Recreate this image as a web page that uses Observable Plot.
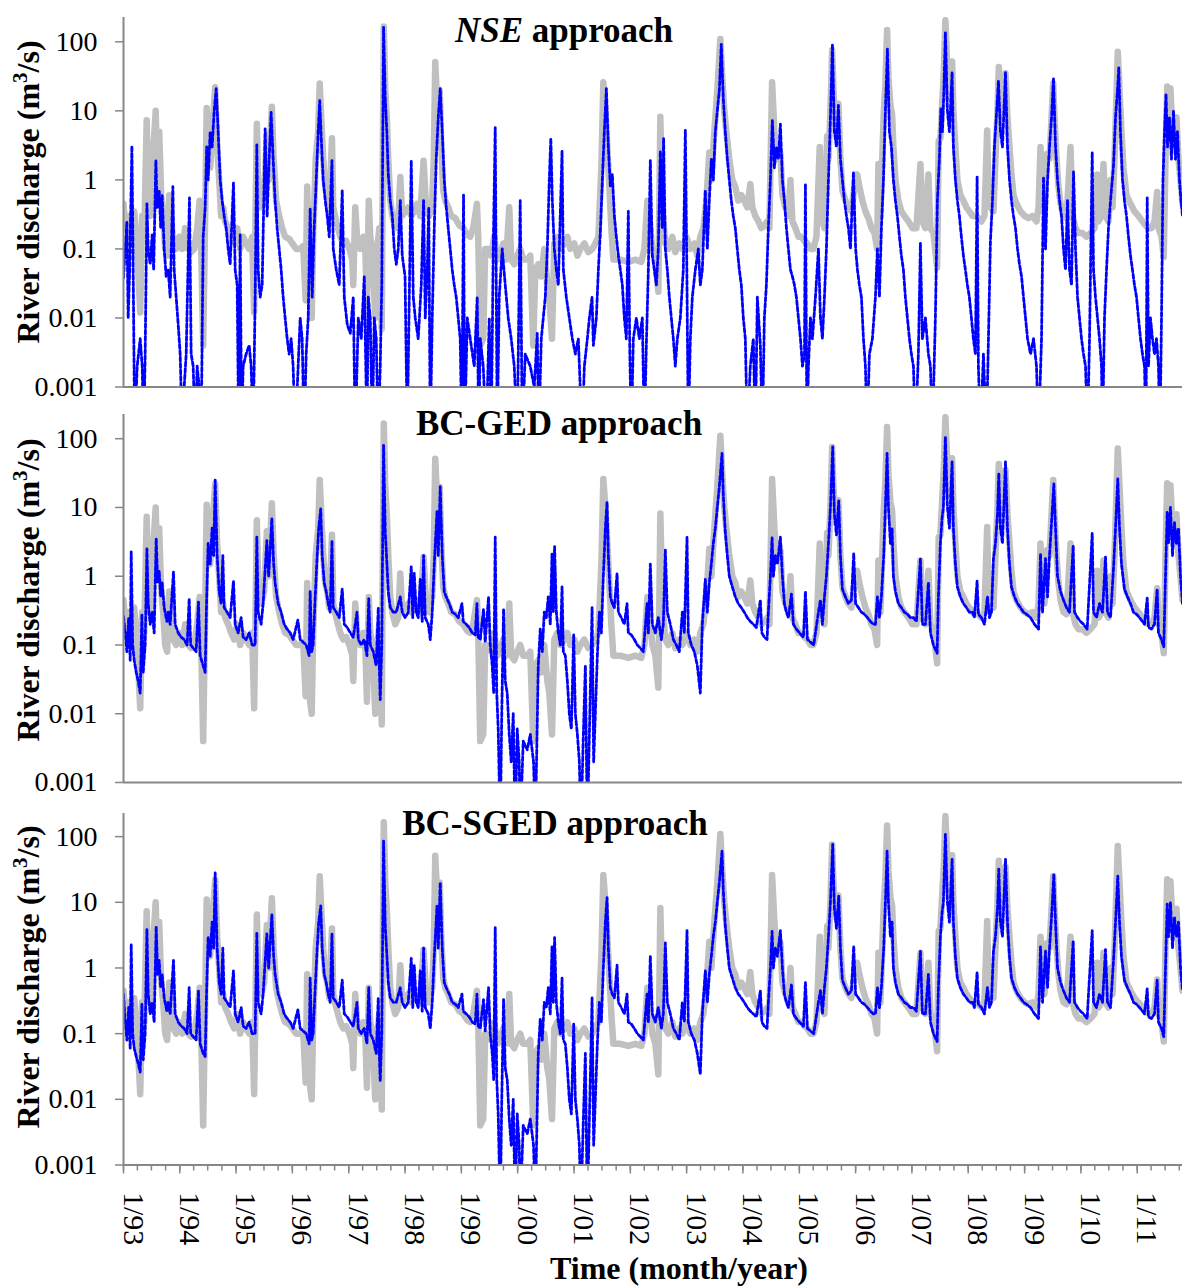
<!DOCTYPE html>
<html><head><meta charset="utf-8">
<script src="https://cdn.jsdelivr.net/npm/d3@7"></script>
<script src="https://cdn.jsdelivr.net/npm/@observablehq/plot@0.6"></script>
<style>
body{margin:0;background:#fff}
#wrap{position:relative;width:1182px;height:1286px;overflow:hidden;background:#fff;font-family:'Liberation Serif','Times New Roman',serif}
#wrap svg, #wrap svg text{font-family:'Liberation Serif','Times New Roman',serif !important}
</style>
</head><body><div id="wrap"></div>
<script>
// Observed river discharge (m3/s), time as decimal year
const observed = [
[1993.000,0.45],[1993.030,0.2],[1993.083,0.3],[1993.137,0.12],[1993.190,0.35],[1993.243,0.1],[1993.297,0.012],[1993.332,0.3],[1993.368,0.15],[1993.412,7.3],[1993.439,0.6],[1993.474,0.3],[1993.510,1.5],[1993.572,10],[1993.599,1.2],[1993.634,5],[1993.670,0.6],[1993.705,0.3],[1993.741,0.1],[1993.776,0.08],[1993.812,0.6],[1993.847,0.3],[1993.883,0.12],[1993.936,0.1],[1993.989,0.15],
[1994.043,0.1],[1994.096,0.2],[1994.149,0.1],[1994.202,0.09],[1994.256,0.1],[1994.309,0.2],[1994.353,0.5],[1994.380,0.1],[1994.416,0.004],[1994.451,0.3],[1994.478,11],[1994.504,2],[1994.540,1.5],[1994.575,5],[1994.629,22],[1994.664,3],[1994.700,1],[1994.735,0.3],[1994.771,0.4],[1994.806,0.25],[1994.860,0.2],[1994.913,0.15],[1994.966,0.12],
[1995.020,0.2],[1995.073,0.1],[1995.126,0.15],[1995.179,0.12],[1995.233,0.1],[1995.286,0.15],[1995.321,0.012],[1995.348,0.4],[1995.369,6.5],[1995.393,0.8],[1995.446,0.4],[1995.499,0.6],[1995.547,4.5],[1995.579,1],[1995.636,11.5],[1995.668,2],[1995.712,0.5],[1995.766,0.3],[1995.819,0.2],[1995.872,0.15],[1995.943,0.14],
[1996.000,0.12],[1996.067,0.1],[1996.139,0.1],[1996.192,0.11],[1996.236,0.018],[1996.263,0.8],[1996.290,0.1],[1996.316,0.015],[1996.343,0.01],[1996.369,0.15],[1996.414,2],[1996.458,5],[1996.485,25],[1996.512,8],[1996.547,2],[1996.583,0.8],[1996.618,0.6],[1996.654,0.35],[1996.702,4],[1996.725,0.4],[1996.778,0.25],[1996.849,0.15],[1996.902,0.12],[1996.956,0.13],
[1997.009,0.1],[1997.062,0.07],[1997.080,0.03],[1997.115,0.4],[1997.151,0.13],[1997.204,0.1],[1997.258,0.15],[1997.293,0.1],[1997.323,0.015],[1997.355,0.5],[1997.382,0.15],[1997.417,0.1],[1997.471,0.01],[1997.506,0.1],[1997.542,0.2],[1997.586,0.007],[1997.604,2],[1997.622,166],[1997.648,20],[1997.678,7.3],[1997.702,2],[1997.737,0.5],[1997.773,0.3],[1997.826,0.2],[1997.879,0.25],[1997.915,1.1],[1997.950,0.3],
[1998.004,0.35],[1998.057,0.4],[1998.110,0.3],[1998.163,0.35],[1998.217,0.45],[1998.270,0.3],[1998.329,1.9],[1998.377,0.35],[1998.430,0.3],[1998.483,0.5],[1998.510,2],[1998.536,51],[1998.572,12],[1998.616,20],[1998.643,3],[1998.678,0.7],[1998.714,0.5],[1998.767,0.4],[1998.821,0.3],[1998.892,0.28],[1998.963,0.22],
[1999.034,0.2],[1999.105,0.16],[1999.158,0.15],[1999.211,0.2],[1999.277,0.45],[1999.300,0.15],[1999.336,0.004],[1999.389,0.005],[1999.424,0.1],[1999.478,0.1],[1999.531,0.08],[1999.584,0.15],[1999.638,0.07],[1999.691,0.08],[1999.744,0.12],[1999.797,0.07],[1999.851,0.4],[1999.886,0.07],[1999.940,0.06],[1999.993,0.08],
[2000.046,0.1],[2000.099,0.07],[2000.171,0.07],[2000.224,0.08],[2000.277,0.004],[2000.313,0.05],[2000.366,0.06],[2000.419,0.04],[2000.472,0.1],[2000.526,0.03],[2000.561,0.02],[2000.609,0.005],[2000.650,0.12],[2000.703,0.15],[2000.757,0.1],[2000.828,0.12],[2000.881,0.15],[2000.934,0.1],
[2001.005,0.12],[2001.059,0.08],[2001.112,0.1],[2001.183,0.12],[2001.254,0.09],[2001.325,0.1],[2001.378,0.12],[2001.432,0.15],[2001.485,1.5],[2001.520,26],[2001.556,10],[2001.591,3],[2001.627,0.8],[2001.662,0.2],[2001.698,0.07],[2001.822,0.07],[2001.964,0.065],
[2002.089,0.07],[2002.195,0.065],[2002.249,0.1],[2002.302,0.5],[2002.355,0.2],[2002.391,0.1],[2002.444,0.07],[2002.497,0.024],[2002.533,8.2],[2002.568,0.4],[2002.622,0.12],[2002.675,0.1],[2002.746,0.15],[2002.799,0.09],[2002.870,0.12],[2002.924,0.1],[2002.995,0.15],
[2003.066,0.1],[2003.137,0.12],[2003.190,0.08],[2003.243,0.15],[2003.297,0.2],[2003.350,0.5],[2003.403,2.5],[2003.439,1],[2003.492,5],[2003.545,20],[2003.599,110],[2003.634,30],[2003.670,10],[2003.705,5],[2003.758,2],[2003.812,1],[2003.865,0.8],[2003.918,0.5],[2003.972,0.6],
[2004.025,0.5],[2004.078,0.4],[2004.131,0.87],[2004.167,0.4],[2004.220,0.3],[2004.274,0.25],[2004.327,0.2],[2004.380,0.22],[2004.433,0.25],[2004.469,0.2],[2004.517,26],[2004.558,5],[2004.593,2],[2004.629,3],[2004.664,2.4],[2004.700,0.6],[2004.753,0.4],[2004.806,0.3],[2004.842,1],[2004.877,0.25],[2004.931,0.2],[2004.984,0.15],
[2005.037,0.15],[2005.091,0.13],[2005.144,0.12],[2005.197,0.1],[2005.250,0.1],[2005.304,0.15],[2005.362,3],[2005.393,0.3],[2005.446,0.2],[2005.494,4.3],[2005.517,2],[2005.552,10],[2005.583,76],[2005.606,20],[2005.641,6],[2005.694,12.7],[2005.730,2],[2005.765,0.7],[2005.819,0.5],[2005.872,0.4],[2005.925,0.35],[2005.979,0.8],
[2006.027,1.2],[2006.067,0.8],[2006.121,0.5],[2006.174,0.35],[2006.227,0.28],[2006.281,0.2],[2006.334,0.17],[2006.382,0.1],[2006.405,1.7],[2006.440,0.3],[2006.499,9],[2006.529,25],[2006.559,148],[2006.583,30],[2006.618,12],[2006.648,9],[2006.671,3],[2006.707,1],[2006.760,0.5],[2006.813,0.35],[2006.867,0.3],[2006.938,0.25],
[2007.009,0.2],[2007.080,0.2],[2007.151,1.7],[2007.186,0.25],[2007.240,0.2],[2007.293,1.2],[2007.329,0.2],[2007.382,0.17],[2007.448,0.054],[2007.476,3.7],[2007.506,4],[2007.542,15],[2007.568,40],[2007.595,206],[2007.631,40],[2007.666,15],[2007.714,52],[2007.737,10],[2007.773,3],[2007.808,1],[2007.861,0.6],[2007.915,0.5],[2007.968,0.4],
[2008.021,0.35],[2008.075,0.3],[2008.128,0.3],[2008.181,0.28],[2008.234,0.25],[2008.288,0.3],[2008.336,5.2],[2008.359,0.6],[2008.394,0.4],[2008.448,0.35],[2008.483,2],[2008.519,10],[2008.542,43],[2008.572,15],[2008.607,8],[2008.661,35],[2008.696,8],[2008.732,3],[2008.767,1.2],[2008.803,0.6],[2008.856,0.45],[2008.927,0.35],
[2009.000,0.3],[2009.069,0.28],[2009.140,0.3],[2009.211,0.25],[2009.247,0.4],[2009.282,3],[2009.318,0.5],[2009.353,0.4],[2009.401,2.4],[2009.442,2],[2009.478,8],[2009.508,25],[2009.531,8],[2009.567,2],[2009.602,0.8],[2009.638,0.45],[2009.691,0.3],[2009.744,0.28],[2009.815,3],[2009.851,0.3],[2009.904,0.2],[2009.957,0.17],
[2010.028,0.17],[2010.099,0.15],[2010.171,0.17],[2010.242,0.2],[2010.290,1.2],[2010.313,0.25],[2010.366,0.3],[2010.401,1.7],[2010.437,0.3],[2010.490,0.25],[2010.526,1],[2010.561,0.4],[2010.597,2],[2010.623,10],[2010.655,72],[2010.686,20],[2010.721,5],[2010.757,1.5],[2010.810,0.6],[2010.881,0.45],[2010.952,0.35],
[2011.023,0.3],[2011.094,0.25],[2011.147,0.22],[2011.201,0.2],[2011.254,0.2],[2011.307,0.25],[2011.355,0.67],[2011.378,0.2],[2011.432,0.15],[2011.472,0.076],[2011.503,2],[2011.533,22.5],[2011.556,8],[2011.591,21],[2011.627,5],[2011.662,3],[2011.698,8],[2011.734,2],[2011.769,1],[2011.805,0.45]
];

// Simulated discharge, NSE approach (values below 0.001 fall off the axis)
const nseSim = [
[1993.000,0.038],[1993.030,0.1],[1993.060,0.25],[1993.083,0.01],[1993.110,0.05],[1993.149,3.1],[1993.172,0.05],[1993.199,0.0002],[1993.243,0.002],[1993.297,0.005],[1993.332,0.002],[1993.359,0.0002],[1993.385,0.003],[1993.416,0.45],[1993.439,0.1],[1993.474,0.06],[1993.510,0.16],[1993.536,0.05],[1993.575,1.9],[1993.599,0.4],[1993.634,0.7],[1993.661,0.2],[1993.687,0.6],[1993.723,0.1],[1993.758,0.04],[1993.794,0.05],[1993.829,0.02],[1993.877,0.8],[1993.900,0.05],[1993.936,0.02],[1993.972,0.008],
[1994.007,0.003],[1994.043,0.0002],[1994.078,0.001],[1994.114,0.003],[1994.172,0.55],[1994.202,0.003],[1994.238,0.002],[1994.274,0.0002],[1994.309,0.002],[1994.345,0.001],[1994.380,0.0002],[1994.416,0.15],[1994.451,0.4],[1994.478,3],[1994.504,1],[1994.540,5],[1994.575,3],[1994.611,10],[1994.647,21],[1994.682,5],[1994.718,1],[1994.753,0.5],[1994.789,0.3],[1994.824,0.2],[1994.860,0.1],[1994.895,0.06],[1994.954,0.9],[1994.984,0.05],
[1995.020,0.03],[1995.046,0.0002],[1995.073,0.16],[1995.099,0.0002],[1995.126,0.002],[1995.179,0.003],[1995.233,0.004],[1995.268,0.002],[1995.304,0.0002],[1995.339,0.02],[1995.369,3.2],[1995.393,0.05],[1995.428,0.02],[1995.464,0.03],[1995.517,5.5],[1995.552,0.3],[1995.588,2],[1995.623,9.5],[1995.659,2],[1995.694,0.5],[1995.730,0.2],[1995.766,0.1],[1995.801,0.05],[1995.837,0.02],[1995.872,0.01],[1995.908,0.005],[1995.943,0.003],[1995.979,0.005],
[1996.014,0.002],[1996.050,0.0002],[1996.103,0.002],[1996.139,0.01],[1996.174,0.005],[1996.210,0.0002],[1996.245,0.003],[1996.281,0.01],[1996.316,0.38],[1996.352,0.02],[1996.387,0.2],[1996.423,1],[1996.458,5],[1996.485,14],[1996.512,4],[1996.547,1],[1996.583,0.5],[1996.618,0.3],[1996.654,0.15],[1996.702,1.9],[1996.725,0.1],[1996.778,0.05],[1996.831,0.03],[1996.884,0.7],[1996.920,0.02],[1996.973,0.008],
[1997.027,0.006],[1997.080,0.02],[1997.115,0.0002],[1997.169,0.01],[1997.222,0.005],[1997.275,0.04],[1997.323,0.0002],[1997.346,0.02],[1997.382,0.01],[1997.417,0.0002],[1997.453,0.01],[1997.488,0.005],[1997.524,0.0002],[1997.559,0.002],[1997.586,0.03],[1997.618,162],[1997.648,15],[1997.678,4.6],[1997.702,1.2],[1997.737,0.5],[1997.773,0.3],[1997.808,0.1],[1997.844,0.06],[1997.879,0.1],[1997.915,0.5],[1997.950,0.08],
[1998.000,0.04],[1998.039,0.0002],[1998.075,0.02],[1998.110,1.9],[1998.146,0.02],[1998.181,0.01],[1998.234,0.005],[1998.288,0.03],[1998.329,0.5],[1998.359,0.01],[1998.394,0.05],[1998.421,0.4],[1998.448,0.0002],[1998.483,0.01],[1998.519,0.2],[1998.554,2],[1998.590,8],[1998.625,21],[1998.661,5],[1998.696,1],[1998.732,0.4],[1998.767,0.2],[1998.803,0.1],[1998.838,0.05],[1998.874,0.03],[1998.909,0.02],[1998.945,0.01],[1998.980,0.005],
[1999.007,0.0002],[1999.039,0.6],[1999.060,0.0002],[1999.105,0.01],[1999.158,0.005],[1999.229,0.002],[1999.282,0.02],[1999.309,0.0002],[1999.336,0.005],[1999.389,0.002],[1999.442,0.0002],[1999.496,0.01],[1999.531,0.0002],[1999.567,0.1],[1999.602,5.7],[1999.638,0.0002],[1999.673,0.02],[1999.726,0.1],[1999.780,0.03],[1999.833,0.01],[1999.886,0.005],[1999.940,0.002],[1999.993,0.0002],
[2000.046,0.5],[2000.082,0.0002],[2000.135,0.003],[2000.224,0.002],[2000.295,0.001],[2000.348,0.006],[2000.375,0.0002],[2000.419,0.005],[2000.490,0.02],[2000.526,0.1],[2000.561,1],[2000.588,4],[2000.615,0.5],[2000.650,0.1],[2000.686,0.05],[2000.721,0.03],[2000.787,2.6],[2000.810,0.05],[2000.863,0.02],[2000.916,0.01],[2000.970,0.005],
[2001.023,0.003],[2001.076,0.005],[2001.142,0.0002],[2001.183,0.002],[2001.236,0.005],[2001.272,0.01],[2001.320,0.02],[2001.343,0.004],[2001.396,0.01],[2001.432,0.05],[2001.467,0.18],[2001.503,1],[2001.538,5],[2001.574,21],[2001.609,3],[2001.645,0.8],[2001.680,1.2],[2001.716,0.3],[2001.751,0.15],[2001.787,0.08],[2001.822,0.05],[2001.858,0.03],[2001.893,0.01],[2001.929,0.005],[2001.964,0.35],[2001.991,0.003],
[2002.018,0.0002],[2002.053,0.005],[2002.107,0.01],[2002.160,0.005],[2002.213,0.01],[2002.249,0.0002],[2002.284,0.004],[2002.320,0.05],[2002.355,1.9],[2002.391,0.08],[2002.426,0.05],[2002.462,0.03],[2002.497,0.1],[2002.533,2.6],[2002.568,0.2],[2002.591,4],[2002.622,0.1],[2002.657,0.05],[2002.693,0.02],[2002.728,0.01],[2002.764,0.005],[2002.799,0.002],[2002.835,0.005],[2002.888,0.01],[2002.941,0.05],[2002.977,5.2],
[2003.004,0.05],[2003.030,0.0002],[2003.066,0.005],[2003.101,0.02],[2003.155,0.05],[2003.208,0.1],[2003.243,0.03],[2003.279,0.05],[2003.332,0.7],[2003.368,0.1],[2003.403,0.5],[2003.439,2],[2003.474,1],[2003.510,5],[2003.545,10],[2003.581,20],[2003.616,92],[2003.652,15],[2003.687,5],[2003.723,2],[2003.758,1],[2003.794,0.5],[2003.829,0.3],[2003.865,0.2],[2003.900,0.1],[2003.936,0.05],[2003.972,0.03],
[2004.007,0.01],[2004.043,0.005],[2004.078,0.0002],[2004.131,0.002],[2004.185,0.005],[2004.220,0.0002],[2004.256,0.02],[2004.309,0.004],[2004.345,0.0002],[2004.380,0.01],[2004.416,0.03],[2004.451,0.2],[2004.487,1],[2004.522,7.2],[2004.558,1.5],[2004.593,3],[2004.629,2],[2004.664,6.4],[2004.700,1],[2004.735,0.5],[2004.771,0.2],[2004.806,0.1],[2004.842,0.05],[2004.877,0.04],[2004.913,0.03],[2004.948,0.02],[2004.984,0.01],
[2005.020,0.005],[2005.055,0.002],[2005.091,0.003],[2005.108,0.87],[2005.135,0.0002],[2005.162,0.002],[2005.197,0.01],[2005.233,0.005],[2005.286,0.02],[2005.339,0.1],[2005.375,0.01],[2005.410,0.005],[2005.446,0.02],[2005.481,0.1],[2005.517,1],[2005.552,8],[2005.588,92],[2005.623,5],[2005.659,3],[2005.694,12],[2005.730,2],[2005.765,1],[2005.801,0.5],[2005.837,0.3],[2005.872,0.2],[2005.908,0.1],[2005.961,1.3],
[2006.000,0.1],[2006.032,0.05],[2006.067,0.03],[2006.103,0.02],[2006.139,0.005],[2006.174,0.002],[2006.204,0.0002],[2006.245,0.003],[2006.298,0.005],[2006.352,0.02],[2006.387,0.1],[2006.423,0.02],[2006.458,0.2],[2006.494,1],[2006.529,10],[2006.565,78],[2006.600,5],[2006.636,3],[2006.671,1],[2006.707,0.5],[2006.742,0.3],[2006.778,0.15],[2006.813,0.08],[2006.849,0.05],[2006.884,0.02],[2006.920,0.01],[2006.956,0.005],[2006.991,0.003],
[2007.027,0.002],[2007.062,0.0002],[2007.115,0.003],[2007.151,0.12],[2007.186,0.005],[2007.240,0.01],[2007.293,0.003],[2007.329,0.002],[2007.364,0.0002],[2007.417,0.01],[2007.453,0.5],[2007.488,2],[2007.515,11],[2007.542,5],[2007.568,20],[2007.595,136],[2007.631,10],[2007.666,5],[2007.714,36],[2007.737,3],[2007.773,1],[2007.808,0.5],[2007.844,0.3],[2007.879,0.15],[2007.915,0.08],[2007.950,0.05],[2007.986,0.03],
[2008.021,0.02],[2008.057,0.01],[2008.092,0.005],[2008.128,0.003],[2008.158,1.1],[2008.181,0.002],[2008.217,0.0002],[2008.270,0.003],[2008.323,0.0002],[2008.359,0.005],[2008.394,0.13],[2008.430,0.5],[2008.465,3],[2008.501,9],[2008.536,27],[2008.572,5],[2008.607,3],[2008.661,36],[2008.696,3],[2008.732,1],[2008.767,0.5],[2008.803,0.3],[2008.838,0.2],[2008.874,0.1],[2008.909,0.06],[2008.945,0.04],[2008.980,0.02],
[2009.016,0.01],[2009.052,0.005],[2009.105,0.003],[2009.158,0.005],[2009.211,0.002],[2009.247,0.0002],[2009.300,0.005],[2009.336,1.1],[2009.371,0.1],[2009.407,1],[2009.442,3],[2009.478,8],[2009.513,30],[2009.549,3],[2009.584,1],[2009.620,0.5],[2009.655,0.3],[2009.691,0.1],[2009.726,0.05],[2009.762,0.5],[2009.797,0.05],[2009.833,0.03],[2009.869,1.3],[2009.904,0.1],[2009.940,0.02],[2009.975,0.01],
[2010.011,0.005],[2010.046,0.003],[2010.082,0.002],[2010.117,0.0002],[2010.153,0.005],[2010.201,2.5],[2010.224,0.05],[2010.259,0.02],[2010.295,0.01],[2010.330,0.005],[2010.366,0.002],[2010.384,0.0002],[2010.419,0.01],[2010.455,0.05],[2010.490,0.2],[2010.526,0.5],[2010.579,1.6],[2010.615,8],[2010.650,20],[2010.673,42],[2010.703,5],[2010.739,1],[2010.774,0.5],[2010.810,0.3],[2010.845,0.15],[2010.881,0.08],[2010.916,0.05],[2010.952,0.03],[2010.988,0.02],
[2011.023,0.01],[2011.059,0.005],[2011.094,0.003],[2011.130,0.002],[2011.156,0.0002],[2011.178,0.55],[2011.201,0.002],[2011.236,0.01],[2011.272,0.005],[2011.307,0.003],[2011.343,0.005],[2011.378,0.002],[2011.405,0.0002],[2011.432,0.01],[2011.458,1],[2011.485,5],[2011.512,17.6],[2011.538,3],[2011.574,8],[2011.609,2],[2011.645,10],[2011.680,2],[2011.716,5],[2011.751,1],[2011.778,0.5],[2011.805,0.3]
];

// Simulated discharge, BC-GED approach
const gedSim = [
[1993.000,0.26],[1993.030,0.15],[1993.060,0.08],[1993.092,0.25],[1993.119,0.06],[1993.137,2.25],[1993.163,0.1],[1993.190,0.06],[1993.226,0.04],[1993.261,0.03],[1993.297,0.02],[1993.327,0.28],[1993.350,0.04],[1993.385,0.1],[1993.416,2.5],[1993.439,0.4],[1993.474,0.2],[1993.510,0.3],[1993.545,0.15],[1993.581,3.5],[1993.607,0.8],[1993.634,1.2],[1993.661,0.5],[1993.687,0.8],[1993.723,0.35],[1993.771,0.22],[1993.794,0.3],[1993.829,0.2],[1993.888,1.15],[1993.918,0.2],[1993.972,0.15],
[1994.025,0.13],[1994.078,0.12],[1994.131,0.1],[1994.167,0.47],[1994.194,0.1],[1994.238,0.09],[1994.291,0.08],[1994.332,0.42],[1994.362,0.07],[1994.416,0.05],[1994.451,0.04],[1994.478,0.5],[1994.504,3],[1994.540,1.5],[1994.575,5],[1994.602,2],[1994.629,25],[1994.664,2],[1994.700,0.6],[1994.735,0.4],[1994.765,2],[1994.789,0.35],[1994.842,0.3],[1994.895,0.25],[1994.954,0.85],[1994.984,0.2],
[1995.037,0.15],[1995.091,0.25],[1995.126,0.13],[1995.179,0.12],[1995.233,0.15],[1995.286,0.1],[1995.339,0.1],[1995.369,3.7],[1995.393,0.3],[1995.446,0.2],[1995.481,0.4],[1995.547,3.3],[1995.579,1],[1995.636,6.9],[1995.668,1.5],[1995.694,0.8],[1995.748,0.4],[1995.801,0.3],[1995.854,0.2],[1995.908,0.17],[1995.961,0.15],
[1996.014,0.12],[1996.098,0.23],[1996.139,0.12],[1996.192,0.11],[1996.245,0.1],[1996.298,0.07],[1996.316,0.6],[1996.343,0.08],[1996.369,0.1],[1996.405,0.5],[1996.440,2],[1996.467,5],[1996.503,9.5],[1996.529,2],[1996.565,0.8],[1996.600,0.6],[1996.636,0.4],[1996.671,0.3],[1996.702,3.3],[1996.725,0.35],[1996.778,0.3],[1996.831,0.25],[1996.884,0.65],[1996.920,0.2],[1996.973,0.18],
[1997.027,0.15],[1997.080,0.13],[1997.146,0.3],[1997.169,0.12],[1997.222,0.1],[1997.275,0.12],[1997.323,0.07],[1997.355,0.47],[1997.382,0.1],[1997.435,0.08],[1997.488,0.05],[1997.524,0.35],[1997.542,0.05],[1997.559,0.016],[1997.586,0.1],[1997.604,5],[1997.618,80],[1997.648,4.4],[1997.678,1.5],[1997.702,0.6],[1997.737,0.35],[1997.790,0.3],[1997.844,0.3],[1997.915,0.5],[1997.950,0.3],
[1998.000,0.25],[1998.057,0.3],[1998.110,1.37],[1998.137,0.25],[1998.163,1.1],[1998.199,0.3],[1998.234,0.25],[1998.270,0.9],[1998.305,0.22],[1998.329,2],[1998.359,0.25],[1998.412,0.2],[1998.448,0.12],[1998.483,0.3],[1998.519,1.5],[1998.567,8.7],[1998.590,2],[1998.625,20],[1998.661,2],[1998.696,0.6],[1998.732,0.5],[1998.785,0.4],[1998.838,0.3],[1998.892,0.28],[1998.945,0.25],
[1999.011,0.4],[1999.034,0.22],[1999.087,0.2],[1999.140,0.18],[1999.194,0.15],[1999.247,0.14],[1999.277,0.4],[1999.300,0.13],[1999.336,0.12],[1999.394,0.33],[1999.424,0.11],[1999.483,0.5],[1999.513,0.1],[1999.549,0.05],[1999.575,0.02],[1999.602,3.7],[1999.629,0.02],[1999.655,0.006],[1999.691,0.0002],[1999.718,0.01],[1999.750,0.33],[1999.780,0.03],[1999.815,0.02],[1999.851,0.005],[1999.886,0.002],[1999.922,0.01],[1999.957,0.0002],[1999.993,0.006],
[2000.028,0.002],[2000.046,0.0002],[2000.099,0.004],[2000.171,0.003],[2000.224,0.005],[2000.282,0.002],[2000.313,0.0002],[2000.366,0.05],[2000.401,0.17],[2000.437,0.08],[2000.472,0.3],[2000.508,0.25],[2000.543,0.5],[2000.579,0.2],[2000.609,2.1],[2000.632,0.3],[2000.655,2.7],[2000.686,0.3],[2000.721,0.15],[2000.757,0.1],[2000.787,0.7],[2000.810,0.08],[2000.845,0.07],[2000.881,0.03],[2000.916,0.01],[2000.952,0.006],[2000.993,0.14],
[2001.023,0.01],[2001.059,0.005],[2001.094,0.002],[2001.121,0.0002],[2001.165,0.005],[2001.201,0.05],[2001.236,0.0002],[2001.272,0.005],[2001.320,0.35],[2001.348,0.002],[2001.378,0.01],[2001.414,0.07],[2001.449,0.3],[2001.485,0.15],[2001.520,1],[2001.556,5],[2001.586,12],[2001.609,2],[2001.645,0.5],[2001.680,0.4],[2001.716,0.35],[2001.764,1.1],[2001.787,0.3],[2001.840,0.25],[2001.893,0.2],[2001.941,0.4],[2001.964,0.15],
[2002.018,0.14],[2002.071,0.12],[2002.124,0.1],[2002.178,0.09],[2002.231,0.08],[2002.297,0.4],[2002.320,0.15],[2002.355,1.5],[2002.391,0.2],[2002.444,0.15],[2002.497,0.25],[2002.551,0.12],[2002.586,0.2],[2002.622,2.4],[2002.657,0.3],[2002.710,0.2],[2002.764,0.12],[2002.817,0.1],[2002.870,0.08],[2002.924,0.3],[2002.959,0.15],
[2003.007,3.7],[2003.030,0.15],[2003.083,0.1],[2003.137,0.08],[2003.190,0.05],[2003.243,0.02],[2003.279,0.2],[2003.332,0.9],[2003.368,0.3],[2003.403,0.8],[2003.439,1.5],[2003.474,3],[2003.510,5],[2003.545,10],[2003.581,20],[2003.629,61],[2003.652,15],[2003.687,4.4],[2003.723,2],[2003.758,1],[2003.812,0.7],[2003.865,0.5],[2003.918,0.4],[2003.972,0.35],
[2004.025,0.3],[2004.078,0.25],[2004.131,0.22],[2004.185,0.2],[2004.238,0.18],[2004.309,0.45],[2004.336,0.15],[2004.380,0.13],[2004.428,0.12],[2004.451,0.3],[2004.487,1],[2004.517,3.6],[2004.540,1],[2004.575,2],[2004.611,1.5],[2004.664,3.7],[2004.700,1],[2004.735,0.4],[2004.771,0.3],[2004.806,0.25],[2004.860,0.55],[2004.895,0.2],[2004.948,0.17],
[2005.002,0.15],[2005.073,0.13],[2005.108,0.6],[2005.144,0.12],[2005.197,0.11],[2005.256,0.1],[2005.286,0.15],[2005.339,0.3],[2005.375,0.45],[2005.410,0.2],[2005.446,0.5],[2005.481,1],[2005.517,3],[2005.552,10],[2005.593,76],[2005.623,8],[2005.659,4],[2005.700,12.5],[2005.730,2],[2005.765,0.65],[2005.819,0.5],[2005.872,0.4],[2005.925,0.45],[2005.966,2.15],
[2006.000,0.4],[2006.050,0.35],[2006.103,0.3],[2006.156,0.28],[2006.210,0.25],[2006.263,0.22],[2006.316,0.2],[2006.352,0.2],[2006.387,0.5],[2006.423,0.25],[2006.458,0.5],[2006.499,2],[2006.529,10],[2006.559,61],[2006.583,10],[2006.618,3],[2006.648,5],[2006.671,1],[2006.707,0.6],[2006.760,0.4],[2006.813,0.35],[2006.867,0.3],[2006.920,0.28],[2006.973,0.25],
[2007.027,0.25],[2007.080,0.22],[2007.151,1.8],[2007.186,0.2],[2007.240,0.2],[2007.293,0.8],[2007.329,0.15],[2007.382,0.1],[2007.448,0.076],[2007.471,0.5],[2007.506,3],[2007.536,7],[2007.559,10],[2007.595,106],[2007.631,10],[2007.666,5],[2007.714,46],[2007.737,5],[2007.773,1.5],[2007.808,0.7],[2007.861,0.5],[2007.915,0.4],[2007.968,0.35],
[2008.021,0.3],[2008.075,0.3],[2008.110,0.25],[2008.158,0.85],[2008.181,0.28],[2008.234,0.25],[2008.288,0.2],[2008.341,0.5],[2008.377,0.25],[2008.412,0.3],[2008.448,1.8],[2008.483,3],[2008.519,8],[2008.542,31.5],[2008.572,5],[2008.607,3],[2008.661,46],[2008.696,5],[2008.732,1.5],[2008.767,0.7],[2008.821,0.5],[2008.874,0.4],[2008.927,0.35],[2008.980,0.3],
[2009.034,0.28],[2009.105,0.25],[2009.176,0.2],[2009.247,0.17],[2009.282,2.1],[2009.318,0.3],[2009.371,1.8],[2009.407,0.5],[2009.442,2],[2009.478,6],[2009.519,22],[2009.549,5],[2009.584,1],[2009.638,0.6],[2009.691,0.45],[2009.744,0.35],[2009.797,0.3],[2009.863,2.8],[2009.886,0.3],[2009.940,0.25],[2009.993,0.22],
[2010.046,0.2],[2010.112,0.17],[2010.135,0.4],[2010.201,4.2],[2010.224,0.3],[2010.277,0.25],[2010.330,0.4],[2010.384,0.3],[2010.437,1.9],[2010.472,0.3],[2010.526,0.25],[2010.579,1.3],[2010.615,5],[2010.655,26],[2010.686,5],[2010.721,1.5],[2010.774,0.65],[2010.828,0.5],[2010.881,0.4],[2010.934,0.3],[2010.988,0.28],
[2011.041,0.25],[2011.094,0.22],[2011.130,0.2],[2011.178,0.48],[2011.201,0.18],[2011.254,0.17],[2011.307,0.2],[2011.355,0.65],[2011.378,0.15],[2011.432,0.12],[2011.472,0.094],[2011.503,1],[2011.533,8.5],[2011.556,3],[2011.591,10],[2011.627,2],[2011.662,6],[2011.698,3],[2011.734,5],[2011.769,1],[2011.805,0.4]
];

// Simulated discharge, BC-SGED approach
const sgedSim = [
[1993.000,0.4],[1993.030,0.15],[1993.060,0.08],[1993.092,0.25],[1993.119,0.06],[1993.137,2.3],[1993.163,0.1],[1993.190,0.06],[1993.226,0.045],[1993.261,0.035],[1993.297,0.026],[1993.327,0.28],[1993.350,0.04],[1993.385,0.1],[1993.416,3.9],[1993.439,0.4],[1993.474,0.2],[1993.510,0.3],[1993.545,0.15],[1993.581,4.3],[1993.607,0.8],[1993.634,1.3],[1993.661,0.5],[1993.687,0.8],[1993.723,0.35],[1993.771,0.22],[1993.794,0.3],[1993.829,0.2],[1993.888,1.3],[1993.918,0.2],[1993.972,0.15],
[1994.025,0.13],[1994.078,0.12],[1994.131,0.1],[1994.167,0.5],[1994.194,0.1],[1994.238,0.09],[1994.291,0.08],[1994.332,0.45],[1994.362,0.07],[1994.416,0.05],[1994.451,0.045],[1994.478,0.5],[1994.504,3],[1994.540,1.5],[1994.575,5],[1994.602,2],[1994.629,28],[1994.664,2],[1994.700,0.6],[1994.735,0.4],[1994.765,2],[1994.789,0.35],[1994.842,0.3],[1994.895,0.25],[1994.954,0.9],[1994.984,0.2],
[1995.037,0.15],[1995.091,0.25],[1995.126,0.13],[1995.179,0.12],[1995.233,0.15],[1995.286,0.1],[1995.339,0.1],[1995.369,3.5],[1995.393,0.3],[1995.446,0.2],[1995.481,0.4],[1995.547,3.3],[1995.579,1],[1995.636,6.6],[1995.668,1.5],[1995.694,0.8],[1995.748,0.4],[1995.801,0.3],[1995.854,0.2],[1995.908,0.17],[1995.961,0.15],
[1996.014,0.12],[1996.098,0.23],[1996.139,0.12],[1996.192,0.11],[1996.245,0.1],[1996.298,0.07],[1996.316,0.7],[1996.343,0.08],[1996.369,0.1],[1996.405,0.5],[1996.440,2],[1996.467,5],[1996.503,8.8],[1996.529,2],[1996.565,0.8],[1996.600,0.6],[1996.636,0.4],[1996.671,0.3],[1996.702,3.3],[1996.725,0.35],[1996.778,0.3],[1996.831,0.25],[1996.884,0.65],[1996.920,0.2],[1996.973,0.18],
[1997.027,0.15],[1997.080,0.13],[1997.146,0.3],[1997.169,0.12],[1997.222,0.1],[1997.275,0.12],[1997.323,0.07],[1997.355,0.5],[1997.382,0.1],[1997.435,0.08],[1997.488,0.05],[1997.524,0.35],[1997.542,0.05],[1997.559,0.019],[1997.586,0.1],[1997.604,5],[1997.618,85],[1997.648,4.4],[1997.678,1.5],[1997.702,0.6],[1997.737,0.35],[1997.790,0.3],[1997.844,0.3],[1997.915,0.5],[1997.950,0.3],
[1998.000,0.25],[1998.057,0.3],[1998.110,1.4],[1998.137,0.25],[1998.163,1.1],[1998.199,0.3],[1998.234,0.25],[1998.270,0.9],[1998.305,0.22],[1998.329,2],[1998.359,0.25],[1998.412,0.2],[1998.448,0.12],[1998.483,0.3],[1998.519,1.5],[1998.567,8.7],[1998.590,2],[1998.625,20],[1998.661,2],[1998.696,0.6],[1998.732,0.5],[1998.785,0.4],[1998.838,0.3],[1998.892,0.28],[1998.945,0.25],
[1999.011,0.4],[1999.034,0.22],[1999.087,0.2],[1999.140,0.18],[1999.194,0.15],[1999.247,0.14],[1999.277,0.4],[1999.300,0.13],[1999.336,0.12],[1999.394,0.33],[1999.424,0.11],[1999.483,0.5],[1999.513,0.1],[1999.549,0.05],[1999.575,0.02],[1999.602,4.1],[1999.629,0.02],[1999.655,0.006],[1999.691,0.0002],[1999.718,0.01],[1999.750,0.33],[1999.780,0.03],[1999.815,0.02],[1999.851,0.005],[1999.886,0.002],[1999.922,0.01],[1999.957,0.0002],[1999.993,0.006],
[2000.028,0.002],[2000.046,0.0002],[2000.099,0.004],[2000.171,0.003],[2000.224,0.005],[2000.282,0.002],[2000.313,0.0002],[2000.366,0.05],[2000.401,0.17],[2000.437,0.08],[2000.472,0.3],[2000.508,0.25],[2000.543,0.5],[2000.579,0.2],[2000.609,2.1],[2000.632,0.3],[2000.655,2.9],[2000.686,0.3],[2000.721,0.15],[2000.757,0.1],[2000.787,0.7],[2000.810,0.08],[2000.845,0.07],[2000.881,0.03],[2000.916,0.01],[2000.952,0.006],[2000.993,0.14],
[2001.023,0.01],[2001.059,0.005],[2001.094,0.002],[2001.121,0.0002],[2001.165,0.005],[2001.201,0.05],[2001.236,0.0002],[2001.272,0.005],[2001.320,0.35],[2001.348,0.002],[2001.378,0.01],[2001.414,0.07],[2001.449,0.3],[2001.485,0.15],[2001.520,1],[2001.556,5],[2001.586,11.8],[2001.609,2],[2001.645,0.5],[2001.680,0.4],[2001.716,0.35],[2001.764,1.1],[2001.787,0.3],[2001.840,0.25],[2001.893,0.2],[2001.941,0.4],[2001.964,0.15],
[2002.018,0.14],[2002.071,0.12],[2002.124,0.1],[2002.178,0.09],[2002.231,0.08],[2002.297,0.4],[2002.320,0.15],[2002.355,1.5],[2002.391,0.2],[2002.444,0.15],[2002.497,0.25],[2002.551,0.12],[2002.586,0.2],[2002.622,2.4],[2002.657,0.3],[2002.710,0.2],[2002.764,0.12],[2002.817,0.1],[2002.870,0.08],[2002.924,0.3],[2002.959,0.15],
[2003.007,3.7],[2003.030,0.15],[2003.083,0.1],[2003.137,0.08],[2003.190,0.05],[2003.243,0.024],[2003.279,0.2],[2003.332,0.9],[2003.368,0.3],[2003.403,0.8],[2003.439,1.5],[2003.474,3],[2003.510,5],[2003.545,10],[2003.581,20],[2003.629,60],[2003.652,15],[2003.687,4.4],[2003.723,2],[2003.758,1],[2003.812,0.7],[2003.865,0.5],[2003.918,0.4],[2003.972,0.35],
[2004.025,0.3],[2004.078,0.25],[2004.131,0.22],[2004.185,0.2],[2004.238,0.18],[2004.309,0.45],[2004.336,0.15],[2004.380,0.13],[2004.428,0.12],[2004.451,0.3],[2004.487,1],[2004.517,3.6],[2004.540,1],[2004.575,2],[2004.611,1.5],[2004.664,3.7],[2004.700,1],[2004.735,0.4],[2004.771,0.3],[2004.806,0.25],[2004.860,0.55],[2004.895,0.2],[2004.948,0.17],
[2005.002,0.15],[2005.073,0.13],[2005.108,0.6],[2005.144,0.12],[2005.197,0.11],[2005.256,0.1],[2005.286,0.15],[2005.339,0.3],[2005.375,0.45],[2005.410,0.2],[2005.446,0.5],[2005.481,1],[2005.517,3],[2005.552,10],[2005.593,76],[2005.623,8],[2005.659,4],[2005.700,12.5],[2005.730,2],[2005.765,0.65],[2005.819,0.5],[2005.872,0.4],[2005.925,0.45],[2005.966,2.15],
[2006.000,0.4],[2006.050,0.35],[2006.103,0.3],[2006.156,0.28],[2006.210,0.25],[2006.263,0.22],[2006.316,0.2],[2006.352,0.2],[2006.387,0.5],[2006.423,0.25],[2006.458,0.5],[2006.499,2],[2006.529,10],[2006.559,60],[2006.583,10],[2006.618,3],[2006.648,5],[2006.671,1],[2006.707,0.6],[2006.760,0.4],[2006.813,0.35],[2006.867,0.3],[2006.920,0.28],[2006.973,0.25],
[2007.027,0.25],[2007.080,0.22],[2007.151,1.8],[2007.186,0.2],[2007.240,0.2],[2007.293,0.8],[2007.329,0.15],[2007.382,0.1],[2007.448,0.076],[2007.471,0.5],[2007.506,3],[2007.536,7],[2007.559,10],[2007.595,108],[2007.631,10],[2007.666,5],[2007.714,45],[2007.737,5],[2007.773,1.5],[2007.808,0.7],[2007.861,0.5],[2007.915,0.4],[2007.968,0.35],
[2008.021,0.3],[2008.075,0.3],[2008.110,0.25],[2008.158,0.85],[2008.181,0.28],[2008.234,0.25],[2008.288,0.2],[2008.341,0.5],[2008.377,0.25],[2008.412,0.3],[2008.448,1.8],[2008.483,3],[2008.519,8],[2008.542,32],[2008.572,5],[2008.607,3],[2008.661,45],[2008.696,5],[2008.732,1.5],[2008.767,0.7],[2008.821,0.5],[2008.874,0.4],[2008.927,0.35],[2008.980,0.3],
[2009.034,0.28],[2009.105,0.25],[2009.176,0.2],[2009.247,0.17],[2009.282,2.1],[2009.318,0.3],[2009.371,1.8],[2009.407,0.5],[2009.442,2],[2009.478,6],[2009.519,27],[2009.549,5],[2009.584,1],[2009.638,0.6],[2009.691,0.45],[2009.744,0.35],[2009.797,0.3],[2009.863,2.6],[2009.886,0.3],[2009.940,0.25],[2009.993,0.22],
[2010.046,0.2],[2010.112,0.17],[2010.135,0.4],[2010.201,3.7],[2010.224,0.3],[2010.277,0.25],[2010.330,0.4],[2010.384,0.3],[2010.437,1.9],[2010.472,0.3],[2010.526,0.25],[2010.579,1.3],[2010.615,5],[2010.655,25],[2010.686,5],[2010.721,1.5],[2010.774,0.65],[2010.828,0.5],[2010.881,0.4],[2010.934,0.3],[2010.988,0.28],
[2011.041,0.25],[2011.094,0.22],[2011.130,0.2],[2011.178,0.48],[2011.201,0.18],[2011.254,0.17],[2011.307,0.2],[2011.355,0.65],[2011.378,0.15],[2011.432,0.12],[2011.472,0.09],[2011.503,1],[2011.533,9.4],[2011.556,3],[2011.591,10],[2011.627,2],[2011.662,6],[2011.698,3],[2011.734,5],[2011.769,1],[2011.805,0.45]
];

const panelTitles = ["NSE approach", "BC-GED approach", "BC-SGED approach"];
const yTickValues = [0.001, 0.01, 0.1, 1, 10, 100];
const yLabel = "River discharge (m³/s)";
const xLabel = "Time (month/year)";
const startYear = 1993, endYear = 2011.805, yMax = 225;

const FONT = "'Liberation Serif','Times New Roman',serif";
const toDate = t => {
  const y = Math.floor(t);
  const s = Date.UTC(y, 0, 1), e = Date.UTC(y + 1, 0, 1);
  return new Date(s + (t - y) * (e - s));
};
const rows = arr => arr.map(([t, q]) => ({date: toDate(t), q}));
const X0 = toDate(startYear), X1 = toDate(endYear);
const yearTicks = d3.utcYear.range(X0, X1);
const quarterTicks = d3.utcMonth.every(3).range(X0, X1);
const AX = "#878787";
const wrap = document.getElementById("wrap");
const obsRows = rows(observed);

function panel(sim, {svgTop, plotTop, plotBottom, svgHeight, xAxis}) {
  const marks = [
    Plot.line(obsRows, {x: "date", y: "q", stroke: "#c0c0c0", strokeWidth: 6.5, clip: true}),
    Plot.line(rows(sim), {x: "date", y: "q", stroke: "#0000ff", strokeWidth: 2.8, strokeDasharray: "4,2.4", clip: true}),
    Plot.axisY({ticks: yTickValues, tickFormat: d => String(d), tickSize: 8, tickPadding: 18, stroke: AX, strokeWidth: 1.5, fontSize: 28, fontFamily: FONT, label: null}),
    Plot.ruleX([X0], {stroke: AX, strokeWidth: 2}),
    Plot.ruleY([0.001], {stroke: AX, strokeWidth: 2})
  ];
  if (xAxis) {
    marks.push(
      Plot.axisX({ticks: quarterTicks, tickSize: 6, tickFormat: () => "", stroke: AX, strokeWidth: 1.5, label: null}),
      Plot.axisX({ticks: yearTicks, tickSize: 9, tickFormat: () => "", stroke: AX, strokeWidth: 1.5, label: null}),
      Plot.text(yearTicks, {x: d => d, frameAnchor: "bottom", rotate: 90, textAnchor: "start", dy: 27, fontSize: 30, fontFamily: FONT, fill: "#000",
        text: d => "1/" + String(d.getUTCFullYear()).slice(2)})
    );
  }
  const svg = Plot.plot({
    width: 1182, height: svgHeight,
    marginLeft: 123, marginRight: 0,
    marginTop: plotTop - svgTop, marginBottom: svgHeight - (plotBottom - svgTop),
    x: {type: "utc", domain: [X0, X1], axis: xAxis ? undefined : null},
    y: {type: "log", domain: [0.001, yMax]},
    style: {fontFamily: FONT, fontSize: "28px", color: "#000", background: "none", overflow: "visible"},
    marks
  });
  svg.setAttribute("font-family", FONT);
  svg.style.position = "absolute";
  svg.style.left = "0px";
  svg.style.top = svgTop + "px";
  wrap.appendChild(svg);
}

panel(nseSim, {svgTop: 0, plotTop: 17, plotBottom: 386.5, svgHeight: 397, xAxis: false});
panel(gedSim, {svgTop: 400, plotTop: 414, plotBottom: 782, svgHeight: 392, xAxis: false});
panel(sgedSim, {svgTop: 790, plotTop: 813, plotBottom: 1164.5, svgHeight: 496, xAxis: true});

// Titles and axis labels
const NS = "http://www.w3.org/2000/svg";
const ov = document.createElementNS(NS, "svg");
ov.setAttribute("width", 1182); ov.setAttribute("height", 1286);
ov.style.position = "absolute"; ov.style.left = "0"; ov.style.top = "0";
ov.setAttribute("font-family", FONT);
const m = yLabel.match(/^(.*m)³(\/s\))$/);
const titlePos = [[564, 42], [559, 435], [555, 835]];
const yLabPos = [192, 590, 977];
let html = "";
panelTitles.forEach((t, i) => {
  const [x, y] = titlePos[i];
  const content = i === 0 ? `<tspan font-style="italic">NSE</tspan>${t.slice(3)}` : t;
  html += `<text x="${x}" y="${y}" text-anchor="middle" font-weight="bold" font-size="35">${content}</text>`;
  html += `<text transform="translate(39,${yLabPos[i]}) rotate(-90)" text-anchor="middle" font-weight="bold" font-size="32">${m[1]}<tspan font-size="21" dy="-12">3</tspan><tspan dy="12">${m[2]}</tspan></text>`;
});
html += `<text x="679" y="1279" text-anchor="middle" font-weight="bold" font-size="32">${xLabel}</text>`;
ov.innerHTML = html;
wrap.appendChild(ov);
</script>
</body></html>
